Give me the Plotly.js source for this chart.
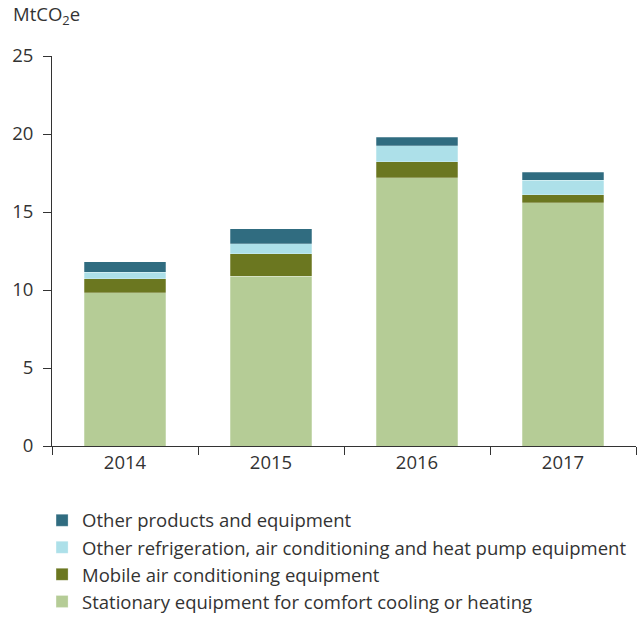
<!DOCTYPE html>
<html>
<head>
<meta charset="utf-8">
<script src="https://cdn.plot.ly/plotly-3.0.1.min.js"></script>
<style>body{margin:0;padding:0;background:#fff;}#chart{width:638px;height:622px;}</style>
</head>
<body>
<div id="chart"></div>
<script>
const years = ['2014', '2015', '2016', '2017'];
const stationary = [9.83, 10.87, 17.18, 15.60];
const mobile = [0.89, 1.45, 1.04, 0.51];
const otherRefrig = [0.42, 0.66, 1.04, 0.94];
const otherProducts = [0.67, 0.94, 0.54, 0.51];
const seriesNames = [
  'Stationary equipment for comfort cooling or heating',
  'Mobile air conditioning equipment',
  'Other refrigeration, air conditioning and heat pump equipment',
  'Other products and equipment'
];
const colors = ['#B5CC96', '#6B7720', '#ADE0E9', '#306C80'];
const yTicks = [0, 5, 10, 15, 20, 25];

const series = [stationary, mobile, otherRefrig, otherProducts];
const traces = series.map((vals, i) => ({
  type: 'bar',
  x: years,
  y: vals,
  name: seriesNames[i],
  marker: {color: colors[i], line: {color: 'rgba(255,255,255,0.5)', width: 0.5}},
  hoverinfo: 'x+y+name'
}));

const font = {family: '"Open Sans", sans-serif', size: 18.5, color: '#333333'};

const layout = {
  width: 638,
  height: 622,
  margin: {l: 52, r: 2, t: 56, b: 175},
  barmode: 'stack',
  bargap: 0.445,
  paper_bgcolor: '#ffffff',
  plot_bgcolor: '#ffffff',
  font: font,
  showlegend: true,
  legend: {
    traceorder: 'reversed',
    orientation: 'v',
    x: -0.017,
    xanchor: 'left',
    y: -0.14,
    yanchor: 'top',
    font: font
  },
  xaxis: {
    type: 'category',
    showline: true,
    linecolor: '#333333',
    linewidth: 1,
    ticks: 'outside',
    tickson: 'boundaries',
    ticklen: 8,
    tickcolor: '#333333',
    showgrid: false,
    zeroline: false,
    tickfont: font,
    fixedrange: true
  },
  yaxis: {
    range: [0, 25],
    tickvals: yTicks,
    showline: true,
    linecolor: '#333333',
    linewidth: 1,
    ticks: 'outside',
    ticklen: 8,
    tickcolor: '#333333',
    ticklabelstandoff: 6,
    showgrid: false,
    zeroline: false,
    tickfont: font,
    fixedrange: true
  },
  annotations: [{
    text: 'MtCO<sub>2</sub>e',
    xref: 'paper', yref: 'paper',
    x: -0.07, xanchor: 'left',
    y: 1.105, yanchor: 'middle',
    showarrow: false,
    font: font
  }]
};

Plotly.newPlot('chart', traces, layout, {displayModeBar: false, staticPlot: true});
</script>
</body>
</html>
